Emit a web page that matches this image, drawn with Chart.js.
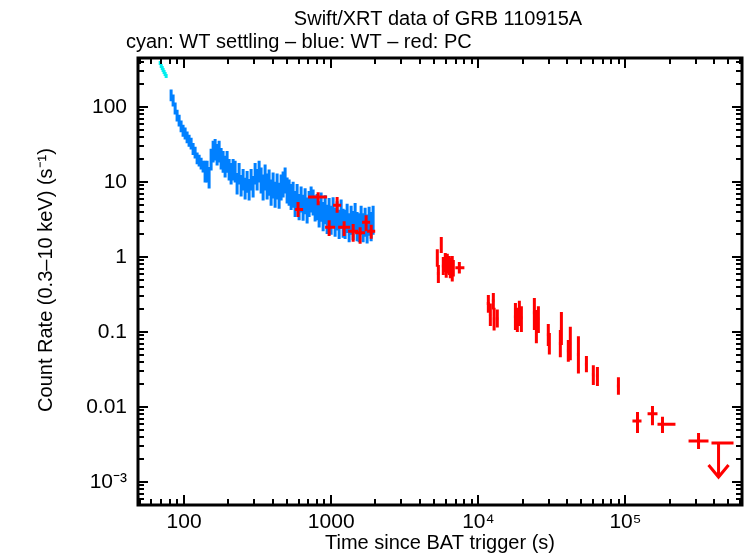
<!DOCTYPE html>
<html>
<head>
<meta charset="UTF-8">
<title>Swift/XRT data of GRB 110915A</title>
<script src="https://cdn.jsdelivr.net/npm/chart.js@4.4.1/dist/chart.umd.min.js"></script>
<style>
  html, body { margin: 0; padding: 0; background: #fff; }
  #wrap { width: 746px; height: 558px; }
</style>
</head>
<body>
<div id="wrap"><canvas id="lc" width="746" height="558"></canvas></div>
<script>
// Light curve values (time in s, rate in counts/s)

// cyan: WT settling
const cyanTime = [68.8, 69.9, 71.0, 72.0, 73.1, 74.3, 75.5];
const cyanRate = [386, 352, 331, 312, 293, 276, 259];
const cyanErr = [0.06, 0.06, 0.06, 0.06, 0.06, 0.06, 0.06];

// blue: WT
const wtTime = [81.6, 84.2, 86.9, 89.6, 92.5, 95.4, 98.4, 101.6, 104.8, 108.1,
  111.6, 115.1, 118.8, 122.6, 126.5, 130.5, 134.6, 138.9, 143.3, 147.9,
  152.6, 157.5, 162.5, 167.6, 173.0, 178.5, 184.1, 190.0, 196.0, 202.3,
  208.7, 215.3, 222.2, 229.2, 236.5, 244.1, 251.8, 259.8, 268.1, 276.6,
  285.4, 294.5, 303.9, 313.5, 323.5, 333.8, 344.4, 355.3, 366.6, 378.3,
  390.3, 402.7, 415.5, 428.8, 442.4, 456.5, 471.0, 486.0, 501.4, 517.4,
  533.8, 550.8, 568.3, 586.4, 605.0, 624.3, 644.1, 664.6, 685.8, 707.6,
  730.1, 753.3, 777.3, 802.0, 827.6, 853.9, 881.1, 909.1, 938.1, 967.9,
  998.7, 1030, 1063, 1097, 1132, 1168, 1205, 1243, 1283, 1324,
  1366, 1409, 1454, 1500, 1548, 1597, 1648, 1700, 1754, 1810,
  1868, 1927];
const wtRate = [145, 124, 97, 78, 67, 56, 49, 45, 40, 36,
  33, 28, 25, 21, 19.6, 17.9, 16.3, 14.5, 14.5, 12.0,
  21, 26.8, 28.4, 24.4, 26.8, 21.5, 19.6, 16.9, 19.6, 15.4,
  13.6, 15.4, 14.5, 10.0, 13.6, 9.4, 11.3, 8.6, 10.6, 8.3,
  11.3, 9.1, 13.6, 11.3, 14.5, 11.3, 9.1, 12.4, 9.4, 10.6,
  7.8, 9.7, 7.3, 9.4, 7.1, 9.1, 10.0, 11.3, 8.3, 7.8,
  6.8, 7.3, 5.5, 6.8, 5.0, 6.3, 4.9, 6.0, 4.5, 5.5,
  6.3, 5.75, 4.8, 5.0, 4.0, 5.1, 3.8, 4.7, 3.5, 4.3,
  3.4, 4.4, 3.2, 3.9, 3.0, 4.1, 3.1, 3.0, 3.6, 2.7,
  3.4, 2.9, 3.7, 2.8, 2.7, 3.4, 2.7, 3.2, 2.6, 3.3,
  2.8, 3.4];
// fractional 1-sigma error of each WT bin
const wtErr = [0.18, 0.18, 0.18, 0.18, 0.18, 0.18, 0.18, 0.18, 0.18, 0.18,
  0.18, 0.18, 0.18, 0.18, 0.18, 0.18, 0.18, 0.32, 0.32, 0.32,
  0.32, 0.32, 0.32, 0.32, 0.32, 0.32, 0.32, 0.32, 0.32, 0.32,
  0.32, 0.32, 0.32, 0.32, 0.32, 0.32, 0.32, 0.32, 0.32, 0.32,
  0.32, 0.32, 0.32, 0.32, 0.32, 0.38, 0.38, 0.38, 0.38, 0.38,
  0.38, 0.38, 0.38, 0.38, 0.38, 0.38, 0.38, 0.38, 0.38, 0.38,
  0.38, 0.38, 0.38, 0.38, 0.38, 0.38, 0.38, 0.38, 0.38, 0.38,
  0.38, 0.38, 0.38, 0.38, 0.38, 0.42, 0.42, 0.42, 0.42, 0.42,
  0.42, 0.42, 0.42, 0.42, 0.42, 0.42, 0.42, 0.42, 0.42, 0.42,
  0.42, 0.42, 0.42, 0.42, 0.42, 0.42, 0.42, 0.42, 0.42, 0.42,
  0.42, 0.42];

// red: PC
const pcTime   = [595, 815, 1097, 968, 1224, 1410, 1572, 1727, 1870,
  5263, 5350, 5600, 5780, 5963, 6050, 6153, 6350, 6450, 6650, 6760, 7430,
  11700, 12070, 12650, 12800, 13460,
  17870, 18420, 19010, 19620,
  24040, 24810, 25600,
  29900, 30400,
  36100, 36700, 40900, 42200,
  47900, 54300, 60500, 64500, 89600,
  120800, 152700, 178600, 314000];
const pcTimeLo = [568, 696, 1030, 909, 1114, 1303, 1454, 1622, 1754,
  5140, 5220, 5470, 5640, 5820, 5900, 6000, 6200, 6290, 6490, 6600, 6980,
  11400, 11780, 12340, 12490, 13130,
  17440, 17980, 18550, 19150,
  23460, 24210, 24980,
  29180, 29670,
  35230, 35820, 39920, 41190,
  46750, 53000, 59050, 62950, 87450,
  111600, 141400, 165200, 268600];
const pcTimeHi = [644, 938, 1168, 1063, 1346, 1524, 1700, 1840, 1991,
  5390, 5480, 5730, 5920, 6110, 6200, 6300, 6500, 6610, 6810, 6920, 8040,
  12000, 12360, 12960, 13110, 13790,
  18300, 18860, 19470, 20100,
  24620, 25410, 26220,
  30620, 31130,
  36970, 37580, 41880, 43210,
  49050, 55600, 61950, 66050, 91750,
  128600, 165200, 218800, 367000];
const pcRate   = [4.3, 6.3, 4.9, 2.5, 2.5, 2.2, 2.1, 2.9, 2.2,
  0.97, 0.6, 1.45, 0.76, 0.85, 0.72, 0.82, 0.77, 0.71, 0.7, 0.71, 0.72,
  0.24, 0.17, 0.26, 0.15, 0.15,
  0.16, 0.145, 0.18, 0.155,
  0.18, 0.12, 0.15,
  0.092, 0.07,
  0.07, 0.11, 0.056, 0.07,
  0.05, 0.037, 0.027, 0.026, 0.019,
  0.0065, 0.0081, 0.0059, 0.00352];
const pcRateLo = [3.4, 4.9, 3.9, 1.9, 1.9, 1.6, 1.5, 2.2, 1.75,
  0.74, 0.45, 1.13, 0.575, 0.63, 0.53, 0.6, 0.575, 0.52, 0.47, 0.55, 0.6,
  0.18, 0.12, 0.2, 0.105, 0.115,
  0.106, 0.1, 0.12, 0.1,
  0.106, 0.071, 0.097,
  0.065, 0.05,
  0.046, 0.067, 0.04, 0.042,
  0.028, 0.029, 0.0197, 0.019, 0.0145,
  0.0045, 0.0057, 0.0045, 0.00275];
const pcRateHi = [5.4, 7.3, 6.3, 3.1, 3.0, 2.75, 2.5, 3.6, 2.7,
  1.27, 0.78, 1.85, 1.0, 1.13, 0.97, 1.1, 1.03, 0.97, 1.03, 0.91, 0.86,
  0.31, 0.24, 0.33, 0.21, 0.2,
  0.244, 0.21, 0.26, 0.22,
  0.284, 0.196, 0.22,
  0.128, 0.097,
  0.106, 0.184, 0.078, 0.117,
  0.088, 0.048, 0.036, 0.034, 0.025,
  0.0086, 0.0103, 0.0074, 0.0045];

// red: PC upper limit
const ulTime = [429500];
const ulTimeLo = [384600];
const ulTimeHi = [543000];
const ulRate = [0.0033];

// axes
const xRange = [48.6, 620000];
const yRange = [4.93e-4, 450];
const xTickValues = [100, 1000, 1e4, 1e5];
const xTickLabels = ['100', '1000', '10\u2074', '10\u2075'];
const yTickValues = [1e-3, 0.01, 0.1, 1, 10, 100];
const yTickLabels = ['10\u207B\u00B3', '0.01', '0.1', '1', '10', '100'];

const FONT = '"Liberation Sans", Arial, sans-serif';

function binPoints(times, rates, errs) {
  return times.map((t, i) => {
    const prev = i > 0 ? times[i - 1] : t * t / times[i + 1];
    const next = i < times.length - 1 ? times[i + 1] : t * t / times[i - 1];
    return {
      x: t, y: rates[i],
      xMin: Math.sqrt(prev * t), xMax: Math.sqrt(t * next),
      yMin: rates[i] * (1 - errs[i]), yMax: rates[i] * (1 + errs[i])
    };
  });
}

const pcPoints = pcTime.map((t, i) => ({
  x: t, y: pcRate[i], xMin: pcTimeLo[i], xMax: pcTimeHi[i], yMin: pcRateLo[i], yMax: pcRateHi[i]
}));
const ulPoints = ulTime.map((t, i) => ({
  x: t, y: ulRate[i], xMin: ulTimeLo[i], xMax: ulTimeHi[i], limit: true
}));

// error bars (and upper-limit arrows) drawn through the chart scales
const errorBars = {
  id: 'errorBars',
  afterDatasetsDraw(chart) {
    const { ctx, chartArea: a, scales: { x, y } } = chart;
    ctx.save();
    ctx.beginPath();
    ctx.rect(a.left, a.top, a.right - a.left, a.bottom - a.top);
    ctx.clip();
    chart.data.datasets.forEach(ds => {
      ctx.strokeStyle = ds.borderColor;
      ctx.lineWidth = 3;
      ctx.lineCap = 'butt';
      ds.data.forEach(p => {
        const px = x.getPixelForValue(p.x);
        const py = y.getPixelForValue(p.y);
        ctx.beginPath();
        ctx.moveTo(x.getPixelForValue(p.xMin), py);
        ctx.lineTo(x.getPixelForValue(p.xMax), py);
        if (p.limit) {
          const tip = py + 34;
          ctx.moveTo(px, py);
          ctx.lineTo(px, tip);
          ctx.moveTo(px - 10, tip - 12);
          ctx.lineTo(px, tip);
          ctx.lineTo(px + 10, tip - 12);
        } else {
          ctx.moveTo(px, y.getPixelForValue(p.yMax));
          ctx.lineTo(px, y.getPixelForValue(p.yMin));
        }
        ctx.stroke();
      });
    });
    ctx.restore();
  }
};

// frame with inward major/minor ticks on all four sides, plus titles
const frame = {
  id: 'frame',
  afterDraw(chart) {
    const { ctx, chartArea: a, scales: { x, y } } = chart;
    ctx.save();
    ctx.strokeStyle = '#000';
    ctx.lineWidth = 2;
    ctx.beginPath();
    for (let k = 1; k <= 6; k++) {
      for (let m = 1; m <= 9; m++) {
        const v = m * Math.pow(10, k);
        if (v < xRange[0] || v > xRange[1]) continue;
        const px = Math.round(x.getPixelForValue(v));
        const len = m === 1 ? 10 : 6;
        ctx.moveTo(px, a.bottom); ctx.lineTo(px, a.bottom - len);
        ctx.moveTo(px, a.top); ctx.lineTo(px, a.top + len);
      }
    }
    for (let k = -4; k <= 2; k++) {
      for (let m = 1; m <= 9; m++) {
        const v = m * Math.pow(10, k);
        if (v < yRange[0] || v > yRange[1]) continue;
        const py = Math.round(y.getPixelForValue(v));
        const len = m === 1 ? 10 : 6;
        ctx.moveTo(a.left, py); ctx.lineTo(a.left + len, py);
        ctx.moveTo(a.right, py); ctx.lineTo(a.right - len, py);
      }
    }
    ctx.stroke();
    ctx.lineWidth = 3;
    ctx.strokeRect(a.left, a.top, a.right - a.left, a.bottom - a.top);

    ctx.fillStyle = '#000';
    ctx.font = '20px ' + FONT;
    ctx.textBaseline = 'alphabetic';
    ctx.textAlign = 'center';
    ctx.fillText('Swift/XRT data of GRB 110915A', 438, 25);
    ctx.textAlign = 'left';
    ctx.fillText('cyan: WT settling \u2013 blue: WT \u2013 red: PC', 126, 48);
    ctx.textAlign = 'center';
    ctx.fillText('Time since BAT trigger (s)', (a.left + a.right) / 2, 549);
    ctx.translate(52, 280);
    ctx.rotate(-Math.PI / 2);
    ctx.fillText('Count Rate (0.3\u201310 keV) (s\u207B\u00B9)', 0, 0);
    ctx.restore();
  }
};

new Chart(document.getElementById('lc'), {
  type: 'scatter',
  data: {
    datasets: [
      { label: 'WT settling', data: binPoints(cyanTime, cyanRate, cyanErr), borderColor: 'rgb(0,238,238)', pointRadius: 0 },
      { label: 'WT', data: binPoints(wtTime, wtRate, wtErr), borderColor: 'rgb(0,128,255)', pointRadius: 0 },
      { label: 'PC', data: pcPoints, borderColor: 'rgb(255,0,0)', pointRadius: 0 },
      { label: 'PC upper limit', data: ulPoints, borderColor: 'rgb(255,0,0)', pointRadius: 0 }
    ]
  },
  options: {
    responsive: false,
    animation: false,
    devicePixelRatio: 1,
    layout: { padding: { top: 58, right: 4, left: 0, bottom: 0 } },
    plugins: { legend: { display: false }, tooltip: { enabled: false } },
    scales: {
      x: {
        type: 'logarithmic', min: xRange[0], max: xRange[1],
        grid: { display: false, drawTicks: false }, border: { display: false },
        afterBuildTicks: ax => { ax.ticks = xTickValues.map(v => ({ value: v })); },
        afterFit: ax => { ax.height = 53; },
        ticks: { autoSkip: false, maxRotation: 0, padding: 5, color: '#000',
          font: { family: FONT, size: 21 }, callback: (v, i) => xTickLabels[i] }
      },
      y: {
        type: 'logarithmic', min: yRange[0], max: yRange[1],
        grid: { display: false, drawTicks: false }, border: { display: false },
        afterBuildTicks: ax => { ax.ticks = yTickValues.map(v => ({ value: v })); },
        afterFit: ax => { ax.width = 138; },
        ticks: { autoSkip: false, padding: 11, color: '#000',
          font: { family: FONT, size: 21 }, callback: (v, i) => yTickLabels[i] }
      }
    }
  },
  plugins: [errorBars, frame]
});
</script>
</body>
</html>
